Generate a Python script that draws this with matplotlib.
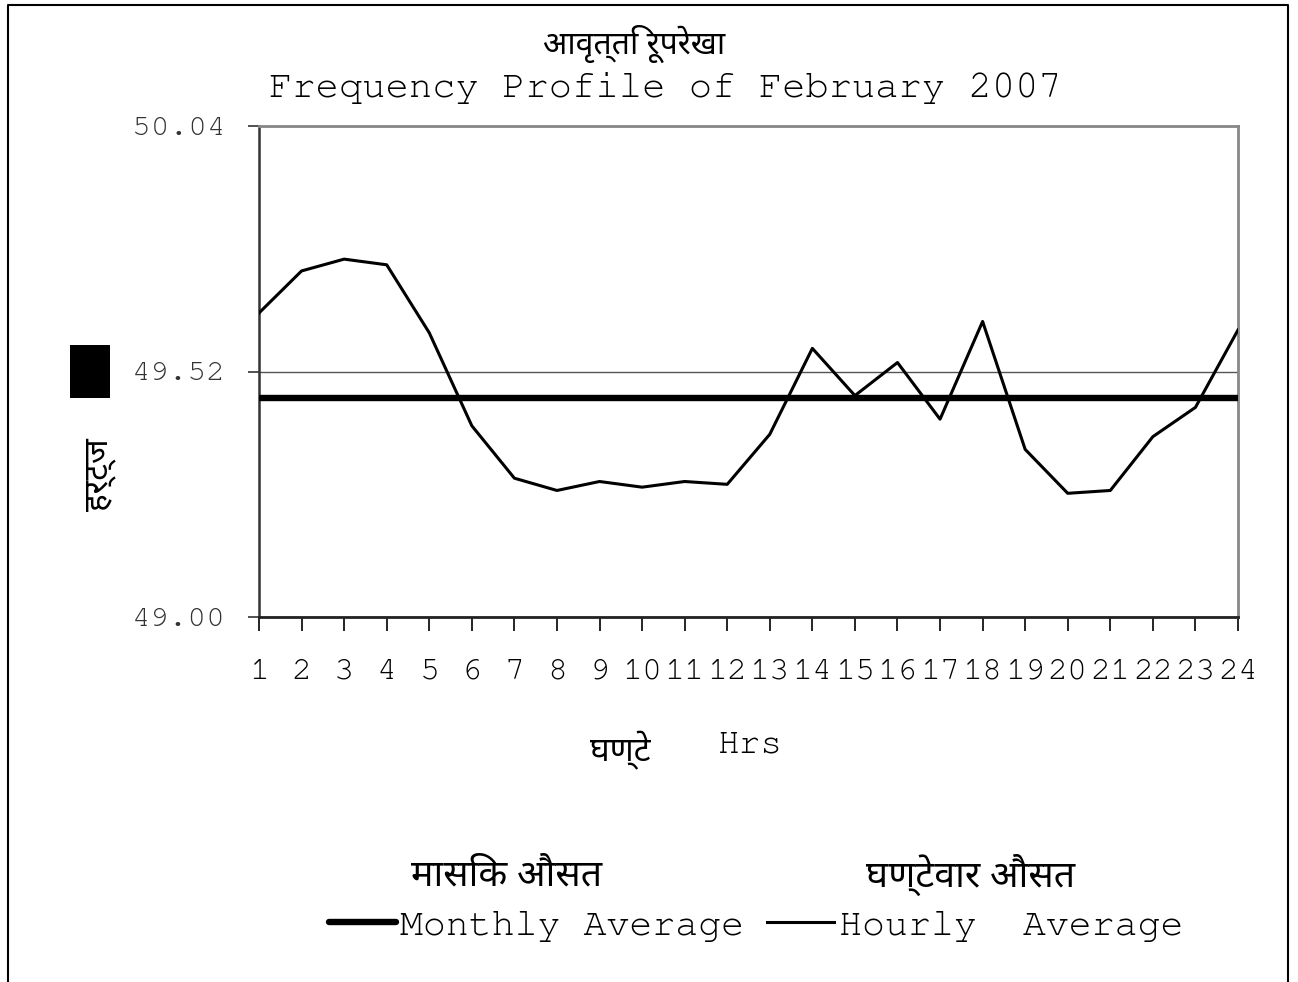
import matplotlib
matplotlib.use("Agg")
import matplotlib.pyplot as plt
from matplotlib.lines import Line2D
from matplotlib.patches import Rectangle

# hourly average frequency (Hz), February 2007
hours = list(range(1, 25))
hourly_avg = [49.644, 49.733, 49.758, 49.746, 49.602, 49.405, 49.294, 49.268,
              49.287, 49.275, 49.287, 49.281, 49.387, 49.569, 49.469, 49.539,
              49.419, 49.626, 49.355, 49.262, 49.268, 49.382, 49.444, 49.608]
monthly_avg = 49.463
y_ticks = [49.00, 49.52, 50.04]

mono = ["FreeMono", "Liberation Mono"]
deva = ["Noto Sans Devanagari", "FreeSans", "DejaVu Sans"]

fig = plt.figure(figsize=(12.98, 9.82), dpi=100)
ax = fig.add_axes([259/1298, 1-617/982, 979/1298, 491/982])

ax.plot(hours, [monthly_avg]*len(hours), color="black", lw=4.6, solid_capstyle="butt", zorder=3)
ax.plot(hours, hourly_avg, color="black", lw=2.2, zorder=4)

ax.set_xlim(1, 24)
ax.set_ylim(49.00, 50.04)
ax.set_xticks(hours)
ax.set_xticklabels([str(h) for h in hours], fontfamily=mono, fontsize=24)
ax.set_yticks(y_ticks)
ax.set_yticklabels(["%.2f" % v for v in y_ticks], fontfamily=mono, fontsize=22.5)
ax.tick_params(axis="x", direction="out", length=10, width=1.2, pad=20, colors="black")
ax.tick_params(axis="y", direction="out", length=8, width=1.2, pad=16, colors="#333333")
ax.grid(axis="y", color="#555555", lw=1.0)
ax.set_axisbelow(True)

ax.spines["left"].set_color("#333333")
ax.spines["left"].set_linewidth(1.8)
ax.spines["bottom"].set_color("#222222")
ax.spines["bottom"].set_linewidth(2.0)
for s in ("top", "right"):
    ax.spines[s].set_color("#888888")
    ax.spines[s].set_linewidth(2.0)

# titles and labels
fig.text(634/1298, 1-44/982, "आवृत्ति रूपरेखा", family=deva, fontsize=23, ha="center", va="center")
fig.text(665/1298, 1-88/982, "Frequency Profile of February 2007", family=mono, fontsize=28,
         ha="center", va="center")
fig.text(620/1298, 1-750/982, "घण्टे", family=deva, fontsize=24, ha="center", va="center")
fig.text(750/1298, 1-745/982, "Hrs", family=mono, fontsize=26, ha="center", va="center")
fig.text(99/1298, 1-475/982, "हर्ट्ज", family=deva, fontsize=24, rotation=90,
         ha="center", va="center")
fig.patches.append(Rectangle((70/1298, 1-398/982), 40/1298, 53/982, transform=fig.transFigure,
                             facecolor="black", edgecolor="none"))

# legend
fig.text(507/1298, 1-875/982, "मासिक औसत", family=deva, fontsize=27, ha="center", va="center")
fig.text(971/1298, 1-875/982, "घण्टेवार औसत", family=deva, fontsize=27, ha="center", va="center")
handles = [Line2D([], [], color="black", lw=4.6, solid_capstyle="round"),
           Line2D([], [], color="black", lw=2.2)]
fig.legend(handles, ["Monthly Average", "Hourly  Average"], ncol=2, frameon=False,
           loc="center", bbox_to_anchor=(756/1298, 1-925/982),
           prop={"family": mono, "size": 27.5}, handlelength=1.75, handletextpad=0.12,
           columnspacing=0.6)

# outer frame (open at the bottom)
fig.lines.append(Line2D([8/1298, 8/1298, 1288/1298, 1288/1298], [0, 1-5/982, 1-5/982, 0],
                        transform=fig.transFigure, color="black", lw=1.5))

fig.savefig("out.png", dpi=100)
